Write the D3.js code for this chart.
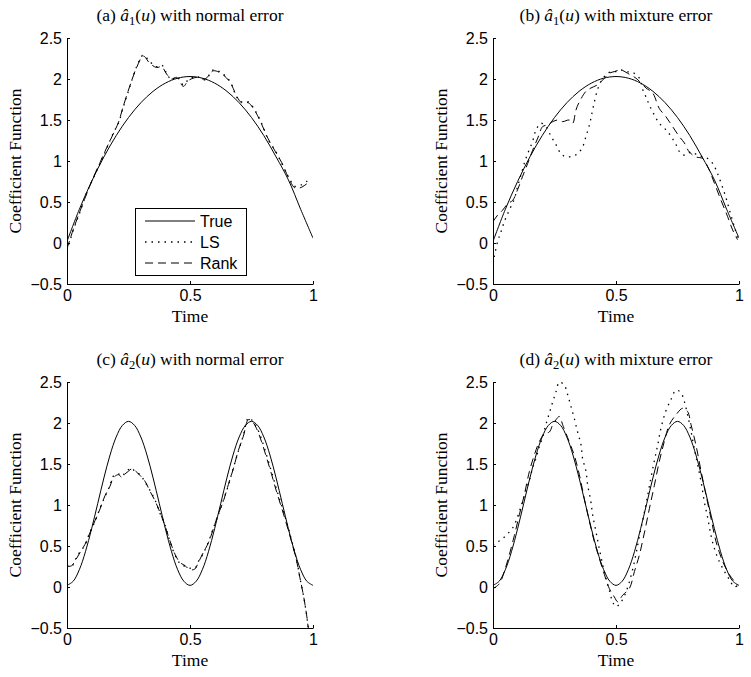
<!DOCTYPE html>
<html>
<head>
<meta charset="utf-8">
<script src="https://cdn.jsdelivr.net/npm/d3@7"></script>
<style>
  body { margin: 0; background: #fff; }
</style>
</head>
<body>
<script>
// true coefficient functions
const uA1 = [0, 0.05, 0.1, 0.15, 0.2, 0.25, 0.3, 0.35, 0.4, 0.45, 0.5, 0.55, 0.6, 0.65, 0.7, 0.75, 0.8, 0.85, 0.9, 0.95, 1];
const trueA1 = [0.02, 0.41, 0.75, 1.05, 1.31, 1.53, 1.71, 1.85, 1.95, 2.01, 2.03, 2.01, 1.95, 1.85, 1.71, 1.53, 1.31, 1.05, 0.77, 0.41, 0.06];

const uA2 = [0, 0.025, 0.05, 0.075, 0.1, 0.125, 0.15, 0.175, 0.2, 0.225, 0.25, 0.275, 0.3, 0.325, 0.35, 0.375, 0.4, 0.425, 0.45, 0.475, 0.5,
             0.525, 0.55, 0.575, 0.6, 0.625, 0.65, 0.675, 0.7, 0.725, 0.75, 0.775, 0.8, 0.825, 0.85, 0.875, 0.9, 0.925, 0.95, 0.975, 1];
const trueA2 = [0.02, 0.07, 0.21, 0.43, 0.71, 1.02, 1.33, 1.61, 1.83, 1.97, 2.02, 1.97, 1.83, 1.61, 1.33, 1.02, 0.71, 0.43, 0.21, 0.07, 0.02,
                0.07, 0.21, 0.43, 0.71, 1.02, 1.33, 1.61, 1.83, 1.97, 2.02, 1.97, 1.83, 1.61, 1.33, 1.02, 0.71, 0.43, 0.21, 0.07, 0.02];

// estimates [u, value]
const lsA1Normal = [[0,-0.09],[0.026,0.16],[0.053,0.38],[0.08,0.61],[0.107,0.79],[0.134,0.97],[0.161,1.15],[0.188,1.34],[0.209,1.46],
  [0.229,1.66],[0.256,1.91],[0.283,2.15],[0.31,2.29],[0.337,2.21],[0.364,2.15],[0.385,2.17],[0.405,2.07],[0.425,1.99],[0.446,2.03],
  [0.473,1.93],[0.493,1.99],[0.527,2.03],[0.561,1.99],[0.595,2.11],[0.63,2.07],[0.663,1.97],[0.69,1.78],[0.71,1.72],[0.737,1.72],
  [0.764,1.62],[0.791,1.46],[0.818,1.26],[0.846,1.13],[0.873,0.97],[0.9,0.81],[0.927,0.69],[0.954,0.71],[0.974,0.75],[0.994,0.79]];
const rankA1Normal = [[0,-0.07],[0.026,0.17],[0.053,0.39],[0.08,0.6],[0.107,0.8],[0.134,0.98],[0.161,1.16],[0.188,1.33],[0.209,1.47],
  [0.229,1.67],[0.256,1.92],[0.283,2.14],[0.31,2.28],[0.337,2.19],[0.364,2.14],[0.385,2.15],[0.405,2.06],[0.425,2.0],[0.446,2.02],
  [0.473,1.91],[0.493,1.98],[0.527,2.02],[0.561,2.0],[0.595,2.1],[0.63,2.06],[0.663,1.96],[0.69,1.79],[0.71,1.71],[0.737,1.71],
  [0.764,1.61],[0.791,1.45],[0.818,1.27],[0.846,1.12],[0.873,0.98],[0.9,0.8],[0.927,0.67],[0.954,0.68],[0.974,0.72],[0.994,0.74]];

const lsA1Mixture = [[0.005,-0.17],[0.019,0.02],[0.033,0.14],[0.046,0.26],[0.066,0.4],[0.087,0.54],[0.1,0.69],[0.114,0.83],[0.127,0.97],
  [0.141,1.09],[0.161,1.24],[0.175,1.38],[0.195,1.46],[0.215,1.42],[0.236,1.3],[0.256,1.2],[0.276,1.09],[0.297,1.05],[0.324,1.06],
  [0.344,1.09],[0.364,1.17],[0.378,1.3],[0.392,1.44],[0.402,1.58],[0.412,1.72],[0.425,1.87],[0.439,1.97],[0.459,2.05],[0.48,2.09],
  [0.5,2.09],[0.52,2.11],[0.54,2.09],[0.568,2.08],[0.595,2.01],[0.609,1.87],[0.622,1.78],[0.636,1.68],[0.656,1.56],[0.676,1.46],
  [0.703,1.38],[0.724,1.3],[0.744,1.2],[0.764,1.09],[0.785,1.07],[0.805,1.11],[0.832,1.07],[0.852,1.05],[0.873,1.03],[0.893,0.97],
  [0.907,0.89],[0.92,0.79],[0.941,0.61],[0.954,0.48],[0.967,0.34],[0.981,0.2],[0.994,0.06]];
const rankA1Mixture = [[0,0.26],[0.019,0.34],[0.039,0.4],[0.06,0.48],[0.08,0.52],[0.1,0.65],[0.12,0.81],[0.141,0.97],[0.161,1.13],
  [0.182,1.28],[0.202,1.42],[0.222,1.44],[0.243,1.48],[0.263,1.5],[0.283,1.48],[0.31,1.5],[0.324,1.46],[0.337,1.62],[0.351,1.72],
  [0.378,1.85],[0.398,1.89],[0.425,1.93],[0.453,2.01],[0.473,2.07],[0.493,2.09],[0.52,2.11],[0.547,2.07],[0.581,2.01],[0.622,1.89],
  [0.649,1.83],[0.676,1.64],[0.703,1.54],[0.73,1.42],[0.757,1.3],[0.778,1.22],[0.798,1.11],[0.825,1.05],[0.852,1.03],[0.873,0.93],
  [0.9,0.73],[0.927,0.52],[0.954,0.32],[0.974,0.16],[0.994,0.04]];

const lsA2Normal = [[0,0.27],[0.019,0.25],[0.033,0.33],[0.053,0.43],[0.073,0.51],[0.093,0.67],[0.114,0.8],[0.134,0.96],[0.154,1.1],
  [0.175,1.24],[0.188,1.35],[0.209,1.38],[0.222,1.35],[0.236,1.39],[0.249,1.43],[0.263,1.45],[0.276,1.41],[0.297,1.37],[0.317,1.28],
  [0.337,1.18],[0.358,1.06],[0.378,0.9],[0.398,0.76],[0.419,0.55],[0.439,0.39],[0.459,0.29],[0.48,0.25],[0.5,0.23],[0.52,0.23],
  [0.534,0.31],[0.554,0.41],[0.575,0.55],[0.595,0.72],[0.615,0.88],[0.636,1.06],[0.656,1.24],[0.676,1.45],[0.696,1.65],[0.717,1.85],
  [0.737,2.06],[0.75,2.04],[0.771,1.95],[0.791,1.8],[0.812,1.6],[0.832,1.4],[0.852,1.19],[0.873,0.99],[0.893,0.79],[0.913,0.57],
  [0.934,0.32],[0.947,0.11],[0.961,-0.1],[0.974,-0.34],[0.981,-0.5],[0.99,-0.62]];
const rankA2Normal = [[0,0.25],[0.019,0.26],[0.033,0.32],[0.053,0.42],[0.073,0.52],[0.093,0.66],[0.114,0.81],[0.134,0.95],[0.154,1.11],
  [0.175,1.23],[0.188,1.33],[0.209,1.37],[0.222,1.34],[0.236,1.38],[0.249,1.41],[0.263,1.44],[0.276,1.42],[0.297,1.36],[0.317,1.29],
  [0.337,1.17],[0.358,1.05],[0.378,0.91],[0.398,0.75],[0.419,0.56],[0.439,0.4],[0.459,0.3],[0.48,0.26],[0.5,0.21],[0.52,0.22],
  [0.534,0.3],[0.554,0.42],[0.575,0.54],[0.595,0.71],[0.615,0.89],[0.636,1.05],[0.656,1.25],[0.676,1.44],[0.696,1.66],[0.717,1.84],
  [0.737,2.04],[0.75,2.03],[0.771,1.93],[0.791,1.77],[0.812,1.57],[0.832,1.37],[0.852,1.16],[0.873,0.96],[0.893,0.76],[0.913,0.55],
  [0.934,0.31],[0.947,0.11],[0.961,-0.1],[0.974,-0.34],[0.981,-0.5],[0.99,-0.62]];

const lsA2Mixture = [[0,0.51],[0.019,0.55],[0.039,0.59],[0.06,0.65],[0.08,0.72],[0.093,0.8],[0.107,0.92],[0.12,1.04],[0.134,1.18],
  [0.148,1.3],[0.161,1.45],[0.175,1.57],[0.188,1.71],[0.202,1.83],[0.215,1.98],[0.229,2.12],[0.243,2.26],[0.256,2.38],[0.27,2.5],
  [0.29,2.46],[0.304,2.34],[0.317,2.2],[0.33,2.06],[0.344,1.89],[0.358,1.73],[0.364,1.57],[0.378,1.41],[0.385,1.24],[0.398,1.04],
  [0.405,0.88],[0.419,0.67],[0.432,0.47],[0.446,0.27],[0.459,0.11],[0.473,-0.04],[0.486,-0.18],[0.5,-0.24],[0.514,-0.21],[0.534,-0.11],
  [0.554,0.06],[0.575,0.31],[0.588,0.51],[0.602,0.72],[0.616,0.92],[0.629,1.12],[0.642,1.33],[0.656,1.54],[0.67,1.74],[0.683,1.94],
  [0.703,2.15],[0.724,2.29],[0.744,2.4],[0.764,2.37],[0.778,2.26],[0.791,2.1],[0.805,1.9],[0.818,1.69],[0.832,1.49],[0.846,1.28],
  [0.859,1.04],[0.873,0.84],[0.886,0.63],[0.9,0.47],[0.92,0.31],[0.941,0.19],[0.961,0.09],[0.981,0.0],[0.994,0.02]];
const rankA2Mixture = [[0,-0.02],[0.026,0.04],[0.046,0.19],[0.066,0.39],[0.087,0.63],[0.107,0.88],[0.127,1.12],[0.148,1.41],[0.168,1.61],
  [0.188,1.77],[0.209,1.87],[0.229,1.89],[0.243,1.98],[0.256,2.04],[0.27,2.08],[0.283,1.98],[0.31,1.77],[0.33,1.61],[0.351,1.37],
  [0.371,1.08],[0.392,0.8],[0.412,0.55],[0.432,0.35],[0.453,0.15],[0.473,-0.02],[0.493,-0.12],[0.507,-0.18],[0.527,-0.1],[0.554,-0.02],
  [0.575,0.19],[0.595,0.39],[0.616,0.67],[0.636,0.96],[0.656,1.24],[0.676,1.53],[0.696,1.77],[0.717,1.98],[0.744,2.1],[0.771,2.18],
  [0.791,2.14],[0.805,1.98],[0.825,1.73],[0.846,1.41],[0.866,1.12],[0.886,0.84],[0.907,0.55],[0.934,0.31],[0.961,0.15],[0.981,0.07],[0.994,0.02]];

const xTicks = [0, 0.5, 1];
const yTicks = [-0.5, 0, 0.5, 1, 1.5, 2, 2.5];
const legendLabels = ["True", "LS", "Rank"];
const panelLetters = ["a", "b", "c", "d"];
const panelSubs = ["1", "1", "2", "2"];
const panelErrors = ["normal", "mixture", "normal", "mixture"];

const panels = [
  {u: uA1, truth: trueA1, ls: lsA1Normal, rank: rankA1Normal, x0: 67, y0: 38, legend: true},
  {u: uA1, truth: trueA1, ls: lsA1Mixture, rank: rankA1Mixture, x0: 493, y0: 38},
  {u: uA2, truth: trueA2, ls: lsA2Normal, rank: rankA2Normal, x0: 67, y0: 382},
  {u: uA2, truth: trueA2, ls: lsA2Mixture, rank: rankA2Mixture, x0: 493, y0: 382}
];

const W = 246, H = 246;
const serif = "'Liberation Serif', 'Times New Roman', serif";
const sans = "'Liberation Sans', Arial, Helvetica, sans-serif";

const styles = {
  truth: null,
  ls: "1.5,5",
  rank: "8,5"
};

const svg = d3.select("body").append("svg")
  .attr("width", 751)
  .attr("height", 677)
  .style("background", "#fff");

const x = d3.scaleLinear().domain([0, 1]).range([0, W]);
const y = d3.scaleLinear().domain([-0.5, 2.5]).range([H, 0]);

const line = d3.line()
  .x(d => x(d[0]))
  .y(d => y(d[1]))
  .curve(d3.curveCatmullRom.alpha(0.5));

panels.forEach((p, i) => {
  const g = svg.append("g").attr("transform", `translate(${p.x0},${p.y0})`);

  g.append("clipPath").attr("id", `clip-${i}`)
    .append("rect").attr("width", W).attr("height", H);

  // axes, ticks pointing inward
  const xa = g.append("g")
    .attr("transform", `translate(0,${H})`)
    .call(d3.axisBottom(x).tickValues(xTicks).tickSizeInner(-3).tickSizeOuter(0).tickPadding(6).tickFormat(d3.format("")));
  const ya = g.append("g")
    .call(d3.axisLeft(y).tickValues(yTicks).tickSizeInner(-3).tickSizeOuter(0).tickPadding(5).tickFormat(d3.format("")));
  [xa, ya].forEach(a => {
    a.attr("font-family", sans).attr("font-size", 16);
    a.selectAll("text").attr("fill", "#000");
    a.selectAll("line, path").attr("stroke", "#000");
  });

  const curves = g.append("g").attr("clip-path", `url(#clip-${i})`);
  const truthPts = p.u.map((u, k) => [u, p.truth[k]]);
  [[truthPts, styles.truth], [p.ls, styles.ls], [p.rank, styles.rank]].forEach(([pts, dash]) => {
    curves.append("path")
      .attr("d", line(pts))
      .attr("fill", "none")
      .attr("stroke", "#000")
      .attr("stroke-width", dash === styles.ls ? 1.3 : 1)
      .attr("stroke-dasharray", dash);
  });

  // title
  const t = g.append("text")
    .attr("x", W / 2)
    .attr("y", -17)
    .attr("text-anchor", "middle")
    .attr("font-family", serif)
    .attr("font-size", 17.5);
  t.append("tspan").text(`(${panelLetters[i]}) `);
  t.append("tspan").attr("font-style", "italic").text("\u00e2");
  t.append("tspan").attr("font-size", 12.5).attr("dy", 4).text(panelSubs[i]);
  t.append("tspan").attr("dy", -4).text("(");
  t.append("tspan").attr("font-style", "italic").text("u");
  t.append("tspan").text(`) with ${panelErrors[i]} error`);

  g.append("text")
    .attr("transform", `translate(-46,${H / 2}) rotate(-90)`)
    .attr("text-anchor", "middle")
    .attr("font-family", serif)
    .attr("font-size", 17.5)
    .text("Coefficient Function");

  g.append("text")
    .attr("x", W / 2)
    .attr("y", H + 38)
    .attr("text-anchor", "middle")
    .attr("font-family", serif)
    .attr("font-size", 17.5)
    .text("Time");

  if (p.legend) {
    const lg = g.append("g").attr("transform", "translate(68,170)");
    lg.append("rect")
      .attr("x", 0.5).attr("y", 0.5)
      .attr("width", 111).attr("height", 67)
      .attr("fill", "#fff").attr("stroke", "#000");
    [styles.truth, styles.ls, styles.rank].forEach((dash, k) => {
      const ry = 13 + k * 21;
      lg.append("line")
        .attr("x1", 10).attr("x2", 60)
        .attr("y1", ry).attr("y2", ry)
        .attr("stroke", "#000")
        .attr("stroke-width", dash === styles.ls ? 1.3 : 1)
        .attr("stroke-dasharray", dash);
      lg.append("text")
        .attr("x", 65).attr("y", ry + 6)
        .attr("font-family", sans)
        .attr("font-size", 16)
        .text(legendLabels[k]);
    });
  }
});
</script>
</body>
</html>
